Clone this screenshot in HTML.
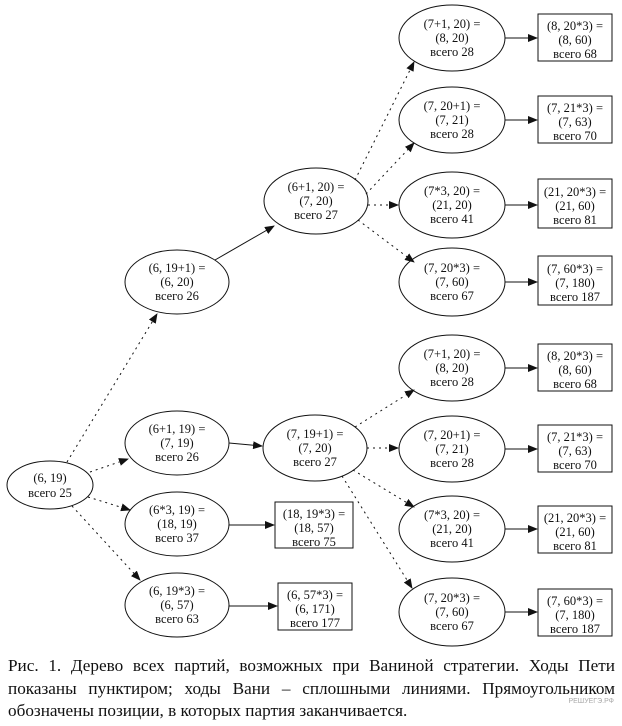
<!DOCTYPE html>
<html><head><meta charset="utf-8"><style>
html,body{margin:0;padding:0;background:#fff;width:622px;height:726px;overflow:hidden}
svg{position:absolute;left:0;top:0}
.cap{position:absolute;left:8px;top:655px;width:607px;font-family:"Liberation Serif",serif;font-size:17.2px;line-height:22.5px;text-align:justify;color:#111}
.wm{position:absolute;right:8px;top:698px;font-family:"Liberation Sans",sans-serif;font-size:7px;color:#aaa}
</style></head><body>
<svg width="622" height="726" viewBox="0 0 622 726" font-family="Liberation Serif, serif" font-size="12.5" text-anchor="middle" fill="#111">
<defs><marker id="a" markerWidth="10" markerHeight="8" refX="9" refY="4" orient="auto" markerUnits="userSpaceOnUse"><path d="M0,0 L10,4 L0,8 z" fill="#111"/></marker></defs>
<g stroke="#111" stroke-width="1" fill="none">
<ellipse cx="50" cy="485" rx="43" ry="24"/>
<ellipse cx="177" cy="282" rx="52" ry="32"/>
<ellipse cx="316" cy="201" rx="52" ry="33"/>
<ellipse cx="177" cy="443" rx="52" ry="32"/>
<ellipse cx="177" cy="524" rx="52" ry="32"/>
<ellipse cx="177" cy="605" rx="52" ry="32"/>
<ellipse cx="315" cy="448" rx="52" ry="33"/>
<ellipse cx="452" cy="38" rx="53" ry="33"/>
<ellipse cx="452" cy="120" rx="53" ry="33"/>
<ellipse cx="452" cy="205" rx="53" ry="33"/>
<ellipse cx="452" cy="282" rx="53" ry="34"/>
<ellipse cx="452" cy="368" rx="53" ry="33"/>
<ellipse cx="452" cy="449" rx="53" ry="33"/>
<ellipse cx="452" cy="529" rx="53" ry="33"/>
<ellipse cx="452" cy="612" rx="53" ry="34"/>
<rect x="538" y="14" width="74" height="47"/>
<rect x="538" y="96" width="74" height="47"/>
<rect x="538" y="179" width="74" height="49"/>
<rect x="538" y="256" width="74" height="49"/>
<rect x="538" y="344" width="74" height="47"/>
<rect x="538" y="425" width="74" height="47"/>
<rect x="538" y="506" width="74" height="47"/>
<rect x="538" y="589" width="74" height="47"/>
<rect x="275" y="502" width="78" height="46"/>
<rect x="278" y="583" width="74" height="47"/>
</g>
<g stroke="#111" stroke-width="1" fill="none" marker-end="url(#a)">
<g stroke-dasharray="2,4">
<line x1="67" y1="462" x2="157" y2="314"/>
<line x1="90" y1="472" x2="128" y2="459"/>
<line x1="88" y1="497" x2="130" y2="510"/>
<line x1="72" y1="506" x2="140" y2="580"/>
<line x1="355" y1="180" x2="414" y2="62"/>
<line x1="366" y1="194" x2="414" y2="143"/>
<line x1="368" y1="205" x2="398" y2="205"/>
<line x1="358" y1="220" x2="414" y2="262"/>
<line x1="355" y1="427" x2="414" y2="390"/>
<line x1="367" y1="448" x2="398" y2="448"/>
<line x1="353" y1="470" x2="414" y2="507"/>
<line x1="342" y1="476" x2="412" y2="588"/>
</g>
<line x1="215" y1="260" x2="274" y2="226"/>
<line x1="229" y1="443" x2="262" y2="446"/>
<line x1="229" y1="525" x2="274" y2="525"/>
<line x1="229" y1="606" x2="277" y2="606"/>
<line x1="505" y1="38" x2="537" y2="38"/>
<line x1="505" y1="120" x2="537" y2="120"/>
<line x1="505" y1="205" x2="537" y2="205"/>
<line x1="505" y1="282" x2="537" y2="282"/>
<line x1="505" y1="368" x2="537" y2="368"/>
<line x1="505" y1="449" x2="537" y2="449"/>
<line x1="505" y1="529" x2="537" y2="529"/>
<line x1="505" y1="612" x2="537" y2="612"/>
</g>
<g>
<text x="50" y="482">(6, 19)</text><text x="50" y="497">всего 25</text>
<text x="177" y="272">(6, 19+1) =</text><text x="177" y="286">(6, 20)</text><text x="177" y="300">всего 26</text>
<text x="316" y="191">(6+1, 20) =</text><text x="316" y="205">(7, 20)</text><text x="316" y="219">всего 27</text>
<text x="177" y="433">(6+1, 19) =</text><text x="177" y="447">(7, 19)</text><text x="177" y="461">всего 26</text>
<text x="177" y="514">(6*3, 19) =</text><text x="177" y="528">(18, 19)</text><text x="177" y="542">всего 37</text>
<text x="177" y="595">(6, 19*3) =</text><text x="177" y="609">(6, 57)</text><text x="177" y="623">всего 63</text>
<text x="315" y="438">(7, 19+1) =</text><text x="315" y="452">(7, 20)</text><text x="315" y="466">всего 27</text>
<text x="314" y="518">(18, 19*3) =</text><text x="314" y="532">(18, 57)</text><text x="314" y="546">всего 75</text>
<text x="315" y="599">(6, 57*3) =</text><text x="315" y="613">(6, 171)</text><text x="315" y="627">всего 177</text>

<text x="452" y="28">(7+1, 20) =</text><text x="452" y="42">(8, 20)</text><text x="452" y="56">всего 28</text>
<text x="452" y="110">(7, 20+1) =</text><text x="452" y="124">(7, 21)</text><text x="452" y="138">всего 28</text>
<text x="452" y="195">(7*3, 20) =</text><text x="452" y="209">(21, 20)</text><text x="452" y="223">всего 41</text>
<text x="452" y="272">(7, 20*3) =</text><text x="452" y="286">(7, 60)</text><text x="452" y="300">всего 67</text>
<text x="452" y="358">(7+1, 20) =</text><text x="452" y="372">(8, 20)</text><text x="452" y="386">всего 28</text>
<text x="452" y="439">(7, 20+1) =</text><text x="452" y="453">(7, 21)</text><text x="452" y="467">всего 28</text>
<text x="452" y="519">(7*3, 20) =</text><text x="452" y="533">(21, 20)</text><text x="452" y="547">всего 41</text>
<text x="452" y="602">(7, 20*3) =</text><text x="452" y="616">(7, 60)</text><text x="452" y="630">всего 67</text>

<text x="575" y="30">(8, 20*3) =</text><text x="575" y="44">(8, 60)</text><text x="575" y="58">всего 68</text>
<text x="575" y="112">(7, 21*3) =</text><text x="575" y="126">(7, 63)</text><text x="575" y="140">всего 70</text>
<text x="575" y="196">(21, 20*3) =</text><text x="575" y="210">(21, 60)</text><text x="575" y="224">всего 81</text>
<text x="575" y="273">(7, 60*3) =</text><text x="575" y="287">(7, 180)</text><text x="575" y="301">всего 187</text>
<text x="575" y="360">(8, 20*3) =</text><text x="575" y="374">(8, 60)</text><text x="575" y="388">всего 68</text>
<text x="575" y="441">(7, 21*3) =</text><text x="575" y="455">(7, 63)</text><text x="575" y="469">всего 70</text>
<text x="575" y="522">(21, 20*3) =</text><text x="575" y="536">(21, 60)</text><text x="575" y="550">всего 81</text>
<text x="575" y="605">(7, 60*3) =</text><text x="575" y="619">(7, 180)</text><text x="575" y="633">всего 187</text>
</g>
</svg>
<div class="cap">Рис. 1. Дерево всех партий, возможных при Ваниной стратегии. Ходы Пети показаны пунктиром; ходы Вани – сплошными линиями. Прямоугольником обозначены позиции, в которых партия заканчивается.</div>
<div class="wm">РЕШУЕГЭ.РФ</div>
</body></html>
